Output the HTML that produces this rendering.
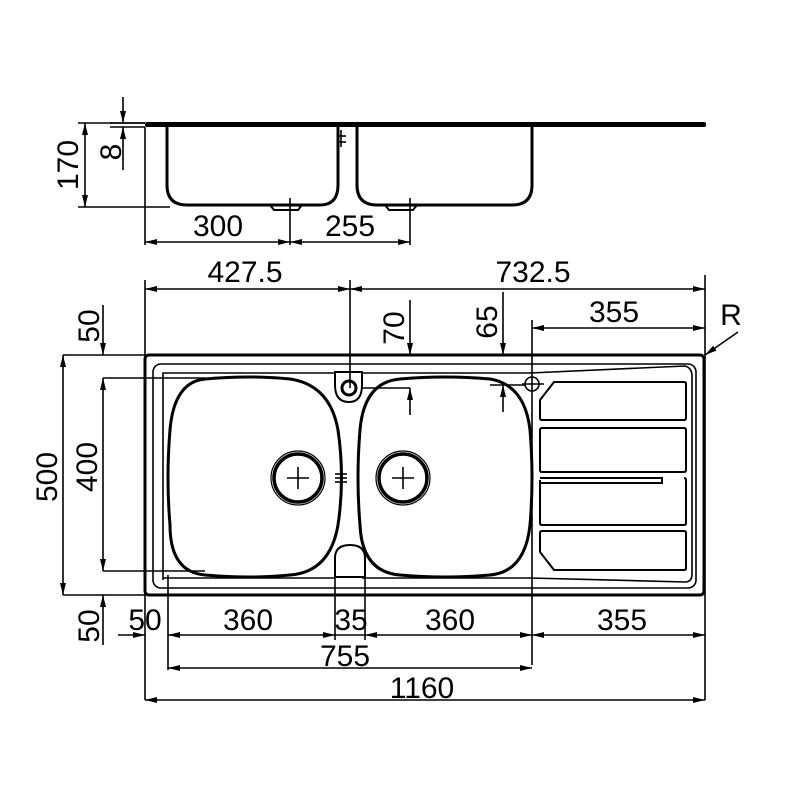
<!DOCTYPE html>
<html><head><meta charset="utf-8"><style>html,body{margin:0;padding:0;background:#fff}svg{display:block}text{font-family:"Liberation Sans","DejaVu Sans",sans-serif;font-size:30px;fill:#000}</style></head>
<body>
<svg width="800" height="800" viewBox="0 0 800 800" xmlns="http://www.w3.org/2000/svg">
<defs>
<marker id="a" viewBox="0 0 12 6" refX="12" refY="3" markerWidth="12" markerHeight="6" orient="auto-start-reverse" markerUnits="userSpaceOnUse"><path d="M0,0 L12,3 L0,6 z" fill="#000"/></marker>
</defs>
<g fill="none" stroke="#000" stroke-width="1.6">
<!-- TOP SECTION VIEW -->
<rect x="145" y="122" width="561" height="5" fill="#000" stroke="none" rx="2"/>
<path d="M167 127 V185 Q167 205 187 205 H320 Q338 205 338 185 V127" stroke-width="3"/>
<path d="M357 127 V185 Q357 205 377 205 H512 Q532 205 532 185 V127" stroke-width="3"/>
<path d="M270 205 L274 210 H298 L302 205" stroke-width="2"/>
<path d="M385 205 L389 210 H413 L417 205" stroke-width="2"/>
<line x1="341" y1="130" x2="341" y2="147" /><line x1="337" y1="136" x2="346" y2="136"/><line x1="337" y1="142" x2="346" y2="142"/>
<line x1="290" y1="198" x2="290" y2="245"/><line x1="410" y1="198" x2="410" y2="245"/>
<line x1="145" y1="127" x2="145" y2="245"/>
<line x1="78" y1="123" x2="145" y2="123"/><line x1="78" y1="207" x2="170" y2="207"/>
<line x1="85" y1="123" x2="85" y2="207" marker-start="url(#a)" marker-end="url(#a)"/>
<line x1="110" y1="123" x2="145" y2="123"/><line x1="110" y1="127" x2="145" y2="127"/>
<line x1="123" y1="97" x2="123" y2="123" marker-end="url(#a)"/>
<line x1="123" y1="127" x2="123" y2="170" marker-start="url(#a)"/>
<line x1="145" y1="242" x2="290" y2="242" marker-start="url(#a)" marker-end="url(#a)"/>
<line x1="290" y1="242" x2="410" y2="242" marker-start="url(#a)" marker-end="url(#a)"/>

<!-- PLAN VIEW -->
<rect x="145" y="355" width="559" height="240" rx="4" stroke-width="3"/>
<rect x="153" y="364" width="543" height="224" rx="8" stroke-width="1.6"/>
<path d="M163 580 V373 H335 M362 373 H530 L685 366 Q692 368 692 376 V574 Q692 582 685 582 L530 578 H362 M335 578 H163" stroke-width="1.6"/>
<!-- bowls -->
<path d="M205 379 Q250 375 290 379 Q330 385 338 430 Q345 478 338 525 Q330 572 290 575 Q250 579 205 575 Q170 572 170 525 Q166 478 170 430 Q174 382 205 379 Z" stroke-width="3"/>
<path d="M400 379 Q445 375 490 379 Q525 385 530 430 Q534 478 530 525 Q525 572 490 575 Q445 579 400 575 Q362 572 360 525 Q356 478 360 430 Q364 382 400 379 Z" stroke-width="3"/>
<!-- drains -->
<circle cx="298" cy="478" r="27" stroke-width="1.2"/><circle cx="298" cy="478" r="24" stroke-width="3.5"/>
<line x1="298" y1="467" x2="298" y2="489"/><line x1="287" y1="478" x2="309" y2="478"/>
<circle cx="403" cy="478" r="27" stroke-width="1.2"/><circle cx="403" cy="478" r="24" stroke-width="3.5"/>
<line x1="403" y1="467" x2="403" y2="489"/><line x1="392" y1="478" x2="414" y2="478"/>
<line x1="341" y1="470" x2="341" y2="486"/><line x1="335" y1="474" x2="347" y2="474"/><line x1="335" y1="478" x2="347" y2="478"/><line x1="335" y1="482" x2="347" y2="482"/>
<!-- overflow -->
<path d="M335 372 V385 Q335 402 349 402 Q362 402 362 385 V372 Z" stroke-width="2"/>
<circle cx="349" cy="388" r="7" stroke-width="3"/>
<path d="M335 577 V558 Q335 545 350 545 Q365 545 365 558 V577 Z" stroke-width="2"/>
<circle cx="532" cy="384" r="7"/><line x1="522" y1="384" x2="544" y2="384"/>
<!-- drainer -->
<path d="M540 400 L554 382 H684 Q686 382 686 384 V418 Q686 420 684 420 H542 Q540 420 540 418 Z" stroke-width="2"/>
<path d="M540 430 Q540 428 542 428 H684 Q686 428 686 430 V470 Q686 472 684 472 H542 Q540 472 540 470 Z" stroke-width="2"/>
<path d="M540 478 H662 V483 H540" stroke-width="2"/>
<path d="M540 480 V523 Q540 525 542 525 H684 Q686 525 686 523 V480 Q686 478 684 478" stroke-width="2"/>
<path d="M540 552 L554 570 H684 Q686 570 686 568 V533 Q686 531 684 531 H542 Q540 531 540 533 Z" stroke-width="2"/>
<!-- plan dims -->
<line x1="145" y1="280" x2="145" y2="700"/><line x1="705" y1="275" x2="705" y2="700"/>
<line x1="350" y1="280" x2="350" y2="388"/>
<line x1="145" y1="289" x2="350" y2="289" marker-start="url(#a)" marker-end="url(#a)"/>
<line x1="350" y1="289" x2="705" y2="289" marker-start="url(#a)" marker-end="url(#a)"/>
<line x1="532" y1="320" x2="532" y2="665"/>
<line x1="532" y1="328" x2="705" y2="328" marker-start="url(#a)" marker-end="url(#a)"/>
<line x1="410" y1="300" x2="410" y2="355" marker-end="url(#a)"/><line x1="410" y1="415" x2="410" y2="388" marker-end="url(#a)"/>
<line x1="503" y1="292" x2="503" y2="355" marker-end="url(#a)"/><line x1="503" y1="412" x2="503" y2="385" marker-end="url(#a)"/>
<line x1="362" y1="388" x2="410" y2="388"/><line x1="490" y1="385" x2="525" y2="385"/>
<line x1="705" y1="355" x2="738" y2="332" marker-start="url(#a)"/>
<line x1="63" y1="355" x2="145" y2="355"/><line x1="63" y1="595" x2="145" y2="595"/>
<line x1="103" y1="378" x2="205" y2="378"/><line x1="103" y1="571" x2="205" y2="571"/>
<line x1="63" y1="355" x2="63" y2="595" marker-start="url(#a)" marker-end="url(#a)"/>
<line x1="103" y1="378" x2="103" y2="571" marker-start="url(#a)" marker-end="url(#a)"/>
<line x1="103" y1="305" x2="103" y2="355" marker-end="url(#a)"/>
<line x1="103" y1="645" x2="103" y2="595" marker-end="url(#a)"/>
<line x1="168" y1="575" x2="168" y2="670"/><line x1="335" y1="578" x2="335" y2="640"/><line x1="365" y1="578" x2="365" y2="640"/>
<line x1="118" y1="635" x2="145" y2="635" marker-end="url(#a)"/>
<line x1="168" y1="635" x2="335" y2="635" marker-start="url(#a)" marker-end="url(#a)"/>
<line x1="335" y1="635" x2="365" y2="635"/>
<line x1="365" y1="635" x2="532" y2="635" marker-start="url(#a)" marker-end="url(#a)"/>
<line x1="532" y1="635" x2="705" y2="635" marker-start="url(#a)" marker-end="url(#a)"/>
<line x1="168" y1="668" x2="532" y2="668" marker-start="url(#a)" marker-end="url(#a)"/>
<line x1="145" y1="700" x2="705" y2="700" marker-start="url(#a)" marker-end="url(#a)"/>
</g>
<text x="218" y="236" text-anchor="middle">300</text>
<text x="350" y="236" text-anchor="middle">255</text>
<text transform="translate(78,165) rotate(-90)" text-anchor="middle">170</text>
<text transform="translate(121,152) rotate(-90)" text-anchor="middle">8</text>
<text x="245" y="282" text-anchor="middle">427.5</text>
<text x="533" y="282" text-anchor="middle">732.5</text>
<text x="614" y="322" text-anchor="middle">355</text>
<text x="731" y="325" text-anchor="middle">R</text>
<text transform="translate(404,328) rotate(-90)" text-anchor="middle">70</text>
<text transform="translate(497,322) rotate(-90)" text-anchor="middle">65</text>
<text transform="translate(99,326) rotate(-90)" text-anchor="middle">50</text>
<text transform="translate(99,626) rotate(-90)" text-anchor="middle">50</text>
<text transform="translate(57,477) rotate(-90)" text-anchor="middle">500</text>
<text transform="translate(97,467) rotate(-90)" text-anchor="middle">400</text>
<text x="145" y="630" text-anchor="middle">50</text>
<text x="248" y="630" text-anchor="middle">360</text>
<text x="351" y="630" text-anchor="middle">35</text>
<text x="450" y="630" text-anchor="middle">360</text>
<text x="622" y="630" text-anchor="middle">355</text>
<text x="345" y="666" text-anchor="middle">755</text>
<text x="422" y="698" text-anchor="middle">1160</text>
</svg>
</body></html>
